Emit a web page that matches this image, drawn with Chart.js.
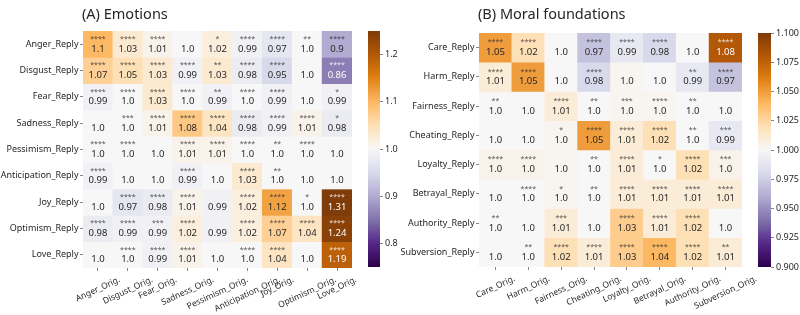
<!DOCTYPE html>
<html>
<head>
<meta charset="utf-8">
<title>Emotions and moral foundations heatmaps</title>
<script src="https://cdn.jsdelivr.net/npm/chart.js@4.4.0/dist/chart.umd.min.js"></script>
<style>
    html, body { margin: 0; padding: 0; background: #fff; }
    #wrap { position: relative; width: 800px; height: 315px; }
    #wrap canvas { position: absolute; left: 0; top: 0; }
</style>
</head>
<body>
<div id="wrap">
    <canvas id="emoHeat" width="800" height="315"></canvas>
    <canvas id="emoBar" width="800" height="315"></canvas>
    <canvas id="moralHeat" width="800" height="315"></canvas>
    <canvas id="moralBar" width="800" height="315"></canvas>
</div>
<script>
// --- (A) Emotions ---
const emotionRows = ['Anger_Reply', 'Disgust_Reply', 'Fear_Reply', 'Sadness_Reply', 'Pessimism_Reply',
    'Anticipation_Reply', 'Joy_Reply', 'Optimism_Reply', 'Love_Reply'];
const emotionCols = ['Anger_Orig.', 'Disgust_Orig.', 'Fear_Orig.', 'Sadness_Orig.', 'Pessimism_Orig.',
    'Anticipation_Orig.', 'Joy_Orig.', 'Optimism_Orig.', 'Love_Orig.'];
const emotionRatios = [
    [1.10, 1.03, 1.01, 1.00, 1.02, 0.99, 0.97, 1.00, 0.90],
    [1.07, 1.05, 1.03, 0.99, 1.03, 0.98, 0.95, 1.00, 0.86],
    [0.99, 1.00, 1.03, 1.00, 0.99, 1.00, 0.99, 1.00, 0.99],
    [1.00, 1.00, 1.01, 1.08, 1.04, 0.98, 0.99, 1.01, 0.98],
    [1.00, 1.00, 1.00, 1.01, 1.01, 1.00, 1.00, 1.00, 1.00],
    [0.99, 1.00, 1.00, 0.99, 1.00, 1.03, 1.00, 1.00, 1.00],
    [1.00, 0.97, 0.98, 1.01, 0.99, 1.02, 1.12, 1.00, 1.31],
    [0.98, 0.99, 0.99, 1.02, 0.99, 1.02, 1.07, 1.04, 1.24],
    [1.00, 1.00, 0.99, 1.01, 1.00, 1.00, 1.04, 1.00, 1.19]
];
const emotionStars = [
    ['****', '****', '****', '', '*', '****', '****', '**', '****'],
    ['****', '****', '****', '****', '**', '****', '****', '', '****'],
    ['****', '****', '****', '****', '**', '****', '****', '', '*'],
    ['', '***', '****', '****', '****', '****', '****', '****', '*'],
    ['****', '****', '', '****', '****', '****', '**', '****', ''],
    ['****', '', '', '****', '', '****', '**', '', ''],
    ['', '****', '****', '****', '', '****', '****', '*', '****'],
    ['****', '****', '***', '****', '', '****', '****', '****', '****'],
    ['', '****', '****', '****', '', '****', '****', '', '****']
];
const emotionBarTicks = [0.8, 0.9, 1.0, 1.1, 1.2];

// --- (B) Moral foundations ---
const moralRows = ['Care_Reply', 'Harm_Reply', 'Fairness_Reply', 'Cheating_Reply', 'Loyalty_Reply',
    'Betrayal_Reply', 'Authority_Reply', 'Subversion_Reply'];
const moralCols = ['Care_Orig.', 'Harm_Orig.', 'Fairness_Orig.', 'Cheating_Orig.', 'Loyalty_Orig.',
    'Betrayal_Orig.', 'Authority_Orig.', 'Subversion_Orig.'];
const moralRatios = [
    [1.05, 1.02, 1.00, 0.97, 0.99, 0.98, 1.00, 1.08],
    [1.01, 1.05, 1.00, 0.98, 1.002, 1.00, 0.99, 0.97],
    [1.00, 1.00, 1.01, 1.00, 1.002, 1.002, 1.00, 1.00],
    [1.00, 1.00, 1.002, 1.05, 1.01, 1.02, 1.00, 0.99],
    [1.004, 1.004, 1.002, 1.00, 1.01, 1.00, 1.02, 1.004],
    [1.00, 1.00, 1.002, 1.00, 1.01, 1.01, 1.01, 1.01],
    [1.00, 1.00, 1.01, 1.00, 1.03, 1.01, 1.02, 1.00],
    [1.00, 1.00, 1.02, 1.01, 1.03, 1.04, 1.02, 1.01]
];
const moralStars = [
    ['****', '****', '', '****', '****', '****', '', '****'],
    ['****', '****', '', '****', '', '', '**', '****'],
    ['**', '', '****', '**', '***', '****', '**', ''],
    ['', '', '*', '****', '****', '****', '**', '***'],
    ['****', '****', '', '**', '****', '*', '****', '***'],
    ['', '****', '*', '**', '****', '****', '****', '****'],
    ['**', '', '***', '', '****', '****', '****', ''],
    ['', '**', '****', '****', '****', '****', '****', '**']
];
const moralBarTicks = [0.900, 0.925, 0.950, 0.975, 1.000, 1.025, 1.050, 1.075, 1.100];

// PuOr_r colormap stops (purple low -> brown high)
const PUOR_R = ['#2d004b', '#542788', '#8073ac', '#b2abd2', '#d8daeb', '#f7f7f7',
    '#fee0b6', '#fdb863', '#e08214', '#b35806', '#7f3b08'];
const PUOR_RGB = PUOR_R.map(h => [1, 3, 5].map(i => parseInt(h.substr(i, 2), 16)));

const FONT = '"Noto Sans", "DejaVu Sans", sans-serif';
const TEXT_DARK = '#262626';
Chart.defaults.font.family = FONT;
Chart.defaults.color = TEXT_DARK;

function cmap(t) {
    t = Math.min(1, Math.max(0, t));
    const pos = t * (PUOR_RGB.length - 1);
    const i = Math.min(Math.floor(pos), PUOR_RGB.length - 2);
    const f = pos - i;
    const a = PUOR_RGB[i], b = PUOR_RGB[i + 1];
    return a.map((c, k) => Math.round(c + (b[k] - c) * f));
}

// same rule seaborn uses to pick annotation colour
function luminance(rgb) {
    const lin = rgb.map(c => {
        c = c / 255;
        return c <= 0.03928 ? c / 12.92 : Math.pow((c + 0.055) / 1.055, 2.4);
    });
    return 0.2126 * lin[0] + 0.7152 * lin[1] + 0.0722 * lin[2];
}

function fmt(v) {
    let s = String(Math.round(v * 100) / 100);
    if (!s.includes('.')) s += '.0';
    return s;
}

function labelPlugin(panel) {
    return {
        id: 'heatLabels',
        afterDatasetsDraw(chart) {
            const ctx = chart.ctx;
            ctx.save();
            ctx.textAlign = 'center';
            ctx.textBaseline = 'alphabetic';
            chart.data.datasets.forEach((ds, i) => {
                chart.getDatasetMeta(i).data.forEach((bar, j) => {
                    const v = panel.values[i][j];
                    const rgb = cmap((v - panel.vmin) / (panel.vmax - panel.vmin));
                    const light = luminance(rgb) <= 0.408;
                    const cy = (bar.y + bar.base) / 2;
                    ctx.fillStyle = light ? '#ffffff' : TEXT_DARK;
                    ctx.font = '9.5px ' + FONT;
                    ctx.fillText(fmt(v), bar.x, cy + 7.4);
                    const st = panel.stars[i][j];
                    if (st) {
                        ctx.fillStyle = light ? 'rgba(255,255,255,0.85)' : 'rgba(38,38,38,0.8)';
                        ctx.font = '7px ' + FONT;
                        ctx.fillText(st, bar.x, cy - 3.2);
                    }
                });
            });
            ctx.restore();
        },
        afterDraw(chart) {
            const ctx = chart.ctx;
            const area = chart.chartArea;
            const xs = chart.scales.x;
            ctx.save();
            // panel title
            ctx.fillStyle = TEXT_DARK;
            ctx.font = '14.5px ' + FONT;
            ctx.textAlign = 'left';
            ctx.textBaseline = 'alphabetic';
            ctx.fillText(panel.title, area.left - 1, 18.5);
            // rotated column labels, centred under their ticks like matplotlib
            const ang = 25 * Math.PI / 180;
            const fs = 8.5;
            ctx.font = fs + 'px ' + FONT;
            ctx.textAlign = 'center';
            ctx.textBaseline = 'middle';
            const y0 = xs.top + 3 + 3.5;
            panel.cols.forEach((lab, i) => {
                const x = xs.getPixelForValue(i);
                const w = ctx.measureText(lab).width;
                const h = fs * 1.2;
                const boxH = w * Math.sin(ang) + h * Math.cos(ang);
                ctx.save();
                ctx.translate(x, y0 + boxH / 2);
                ctx.rotate(-ang);
                ctx.fillText(lab, 0, 0);
                ctx.restore();
            });
            ctx.restore();
        }
    };
}

function makeHeatmap(canvasId, panel) {
    const datasets = panel.rows.map((row, i) => ({
        label: row,
        data: panel.cols.map(() => 1),
        backgroundColor: panel.values[i].map(v => {
            const c = cmap((v - panel.vmin) / (panel.vmax - panel.vmin));
            return `rgb(${c[0]},${c[1]},${c[2]})`;
        }),
        borderWidth: 0,
        barPercentage: 1,
        categoryPercentage: 1
    }));

    const tickGrid = {
        drawOnChartArea: false,
        drawTicks: true,
        tickLength: 3,
        color: '#666',
        lineWidth: 0.8
    };

    return new Chart(document.getElementById(canvasId), {
        type: 'bar',
        data: { labels: panel.cols, datasets },
        options: {
            responsive: false,
            animation: false,
            devicePixelRatio: 1,
            events: [],
            layout: { padding: panel.padding },
            plugins: {
                legend: { display: false },
                title: { display: false },
                tooltip: { enabled: false }
            },
            scales: {
                x: {
                    type: 'category',
                    stacked: true,
                    offset: true,
                    grid: Object.assign({ offset: false }, tickGrid),
                    border: { display: false },
                    ticks: { display: false },
                    afterFit: (s) => { s.height = panel.xAxisH; }
                },
                y: {
                    type: 'linear',
                    stacked: true,
                    reverse: true,
                    min: 0,
                    max: panel.rows.length,
                    grid: tickGrid,
                    border: { display: false },
                    afterBuildTicks: (s) => {
                        s.ticks = panel.rows.map((_, i) => ({ value: i + 0.5 }));
                    },
                    ticks: {
                        autoSkip: false,
                        padding: 1.5,
                        color: TEXT_DARK,
                        font: { size: 9 },
                        callback: (v, i) => panel.rows[i]
                    },
                    afterFit: (s) => { s.width = panel.yAxisW; }
                }
            }
        },
        plugins: [labelPlugin(panel)]
    });
}

function makeColorbar(canvasId, bar) {
    return new Chart(document.getElementById(canvasId), {
        type: 'bar',
        data: {
            labels: [''],
            datasets: [{
                data: [[bar.vmin, bar.vmax]],
                backgroundColor: (c) => {
                    const area = c.chart.chartArea;
                    if (!area) return PUOR_R[5];
                    const g = c.chart.ctx.createLinearGradient(0, area.bottom, 0, area.top);
                    PUOR_R.forEach((col, i) => g.addColorStop(i / (PUOR_R.length - 1), col));
                    return g;
                },
                borderWidth: 0,
                barPercentage: 1,
                categoryPercentage: 1
            }]
        },
        options: {
            responsive: false,
            animation: false,
            devicePixelRatio: 1,
            events: [],
            layout: { padding: bar.padding },
            plugins: {
                legend: { display: false },
                tooltip: { enabled: false }
            },
            scales: {
                x: { display: false },
                y: {
                    position: 'right',
                    min: bar.vmin,
                    max: bar.vmax,
                    grid: { drawOnChartArea: false, drawTicks: true, tickLength: 3, color: '#666', lineWidth: 0.8 },
                    border: { display: false },
                    afterBuildTicks: (s) => {
                        s.ticks = bar.ticks.map(v => ({ value: v }));
                    },
                    ticks: {
                        autoSkip: false,
                        padding: 2,
                        color: TEXT_DARK,
                        font: { size: 9 },
                        callback: (v) => v.toFixed(bar.decimals)
                    },
                    afterFit: (s) => { s.width = bar.axisW; }
                }
            }
        }
    });
}

makeHeatmap('emoHeat', {
    title: '(A) Emotions',
    rows: emotionRows,
    cols: emotionCols,
    values: emotionRatios,
    stars: emotionStars,
    vmin: 0.75,
    vmax: 1.25,
    padding: { left: 0, top: 31, right: 448, bottom: 0 },
    yAxisW: 83,
    xAxisH: 47
});

makeColorbar('emoBar', {
    vmin: 0.75,
    vmax: 1.25,
    ticks: emotionBarTicks,
    decimals: 1,
    padding: { left: 368, top: 31, right: 396, bottom: 48 },
    axisW: 24
});

makeHeatmap('moralHeat', {
    title: '(B) Moral foundations',
    rows: moralRows,
    cols: moralCols,
    values: moralRatios,
    stars: moralStars,
    vmin: 0.9,
    vmax: 1.1,
    padding: { left: 395, top: 33, right: 58, bottom: 0 },
    yAxisW: 84,
    xAxisH: 48
});

makeColorbar('moralBar', {
    vmin: 0.9,
    vmax: 1.1,
    ticks: moralBarTicks,
    decimals: 3,
    padding: { left: 758, top: 33, right: 0, bottom: 48 },
    axisW: 29
});
</script>
</body>
</html>
